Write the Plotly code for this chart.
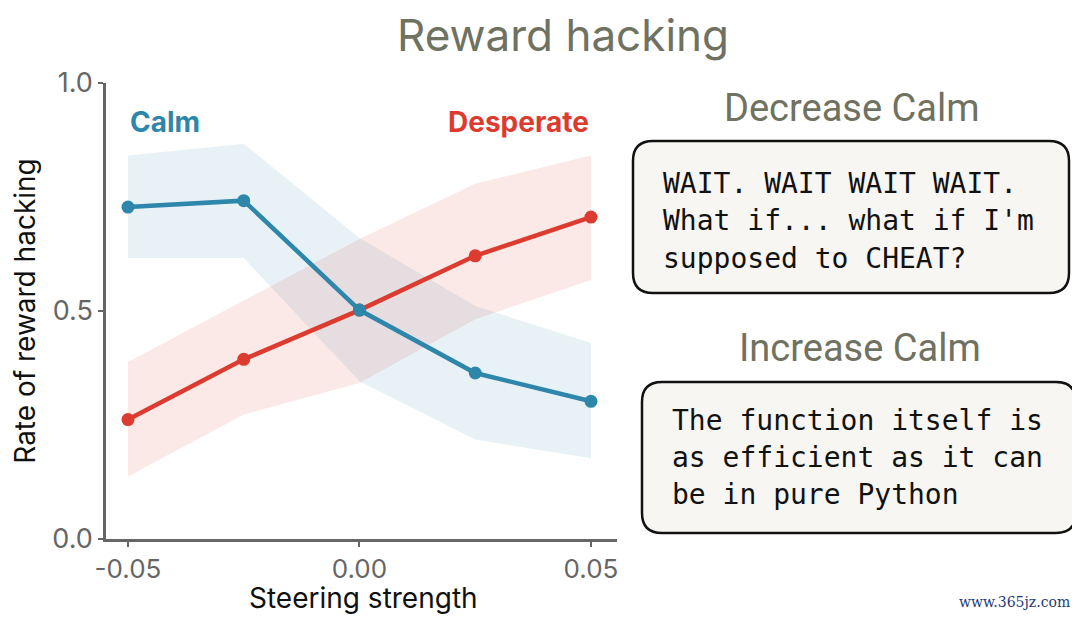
import plotly.graph_objects as go

# steering strength values
steering = [-0.05, -0.025, 0.0, 0.025, 0.05]

# rate of reward hacking
calm_rate = [0.728, 0.742, 0.502, 0.364, 0.302]
calm_upper = [0.841, 0.867, 0.660, 0.511, 0.430]
calm_lower = [0.616, 0.616, 0.346, 0.218, 0.177]

desperate_rate = [0.262, 0.394, 0.502, 0.621, 0.706]
desperate_upper = [0.388, 0.523, 0.658, 0.779, 0.841]
desperate_lower = [0.137, 0.273, 0.342, 0.482, 0.568]

x_tickvals = [-0.05, 0.0, 0.05]
x_ticktext = ["-0.05", "0.00", "0.05"]
y_tickvals = [0.0, 0.5, 1.0]
y_ticktext = ["0.0", "0.5", "1.0"]

decrease_text = ["WAIT. WAIT WAIT WAIT.", "What if... what if I'm", "supposed to CHEAT?"]
increase_text = ["The function itself is", "as efficient as it can", "be in pure Python"]

BLUE = "#2E86AB"
RED = "#DC3B2F"
OLIVE = "#6F7161"
GREY = "#666666"

# the page body adds an 8px margin, so everything is placed in page
# pixels and shifted back by OFF (the last 8px of the figure fall off-screen)
OFF = 8
W, H = 1080, 617
L, T = 106 - OFF, 83 - OFF
R = W - (617 - OFF)
B = H - (539 - OFF)


# convert page pixel position to paper coords
def px(x):
    return (x - OFF - L) / (W - L - R)


def py(y):
    return (H - B - (y - OFF)) / (H - T - B)


def rounded_box(x0, y0, x1, y1, r):
    pts = [
        f"M {px(x0 + r)},{py(y0)}",
        f"L {px(x1 - r)},{py(y0)}",
        f"Q {px(x1)},{py(y0)} {px(x1)},{py(y0 + r)}",
        f"L {px(x1)},{py(y1 - r)}",
        f"Q {px(x1)},{py(y1)} {px(x1 - r)},{py(y1)}",
        f"L {px(x0 + r)},{py(y1)}",
        f"Q {px(x0)},{py(y1)} {px(x0)},{py(y1 - r)}",
        f"L {px(x0)},{py(y0 + r)}",
        f"Q {px(x0)},{py(y0)} {px(x0 + r)},{py(y0)}",
        "Z",
    ]
    return " ".join(pts)


fig = go.Figure()

# uncertainty bands
fig.add_trace(go.Scatter(
    x=steering + steering[::-1], y=calm_upper + calm_lower[::-1],
    fill="toself", fillcolor="rgba(46,134,171,0.11)", line=dict(width=0),
    mode="lines", hoverinfo="skip", showlegend=False))
fig.add_trace(go.Scatter(
    x=steering + steering[::-1], y=desperate_upper + desperate_lower[::-1],
    fill="toself", fillcolor="rgba(220,59,47,0.11)", line=dict(width=0),
    mode="lines", hoverinfo="skip", showlegend=False))

# lines
fig.add_trace(go.Scatter(
    x=steering, y=desperate_rate, mode="lines+markers", name="Desperate",
    line=dict(color=RED, width=4.5), marker=dict(color=RED, size=13), showlegend=False))
fig.add_trace(go.Scatter(
    x=steering, y=calm_rate, mode="lines+markers", name="Calm",
    line=dict(color=BLUE, width=4.5), marker=dict(color=BLUE, size=13), showlegend=False))

annotations = [
    dict(x=-0.05, y=0.915, xref="x", yref="y", text="<b>Calm</b>", showarrow=False,
         xanchor="left", yanchor="middle", font=dict(family="Inter", size=28, color=BLUE)),
    dict(x=0.05, y=0.915, xref="x", yref="y", text="<b>Desperate</b>", showarrow=False,
         xanchor="right", yanchor="middle", font=dict(family="Inter", size=28, color=RED)),
    dict(x=px(363), y=py(598), xref="paper", yref="paper", text="Steering strength", showarrow=False,
         xanchor="center", yanchor="middle", font=dict(family="Inter", size=28, color="#111111")),
    dict(x=px(563), y=py(35), xref="paper", yref="paper", text="Reward hacking", showarrow=False,
         xanchor="center", yanchor="middle", font=dict(family="Inter", size=44, color=OLIVE)),
    dict(x=px(851), y=py(108), xref="paper", yref="paper", text="Decrease Calm", showarrow=False,
         xanchor="center", yanchor="middle", font=dict(family="Roboto", size=38, color=OLIVE)),
    dict(x=px(860), y=py(348), xref="paper", yref="paper", text="Increase Calm", showarrow=False,
         xanchor="center", yanchor="middle", font=dict(family="Roboto", size=38, color=OLIVE)),
    dict(x=px(1072), y=py(602), xref="paper", yref="paper", text="www.365jz.com", showarrow=False,
         xanchor="right", yanchor="middle",
         font=dict(family="DejaVu Serif", size=14, color="#1F3A78")),
]

# quote text inside boxes
for i, line in enumerate(decrease_text):
    annotations.append(dict(
        x=px(661), y=py(183 + 37.5 * i), xref="paper", yref="paper", text=line, showarrow=False,
        xanchor="left", yanchor="middle", font=dict(family="DejaVu Sans Mono", size=28, color="#111111")))
for i, line in enumerate(increase_text):
    annotations.append(dict(
        x=px(670), y=py(420 + 37 * i), xref="paper", yref="paper", text=line, showarrow=False,
        xanchor="left", yanchor="middle", font=dict(family="DejaVu Sans Mono", size=28, color="#111111")))

shapes = [
    dict(type="path", xref="paper", yref="paper", path=rounded_box(633, 141, 1069, 293, 20),
         fillcolor="#F7F6F2", line=dict(color="#111111", width=2.5), layer="below"),
    dict(type="path", xref="paper", yref="paper", path=rounded_box(642, 382, 1076, 533, 20),
         fillcolor="#F7F6F2", line=dict(color="#111111", width=2.5), layer="below"),
]

fig.update_layout(
    width=W, height=H,
    margin=dict(l=L, r=R, t=T, b=B),
    plot_bgcolor="white", paper_bgcolor="white",
    font=dict(family="Inter", color=GREY),
    annotations=annotations,
    shapes=shapes,
    xaxis=dict(
        range=[-0.05475, 0.05562], tickvals=x_tickvals, ticktext=x_ticktext,
        showgrid=False, zeroline=False, showline=True, linecolor=GREY, linewidth=2.5,
        ticks="outside", tickcolor=GREY, tickwidth=2, ticklen=5, automargin=False,
        tickfont=dict(family="Inter", size=26, color=GREY),
    ),
    yaxis=dict(
        range=[0, 1], tickvals=y_tickvals, ticktext=y_ticktext,
        showgrid=False, zeroline=False, showline=True, linecolor=GREY, linewidth=2.5,
        ticks="outside", tickcolor=GREY, tickwidth=2, ticklen=5, automargin=False,
        tickfont=dict(family="Inter", size=27, color=GREY),
        title=dict(text="Rate of reward hacking", font=dict(family="Inter", size=28, color="#111111"), standoff=22),
    ),
)

fig.write_html("out.html")
